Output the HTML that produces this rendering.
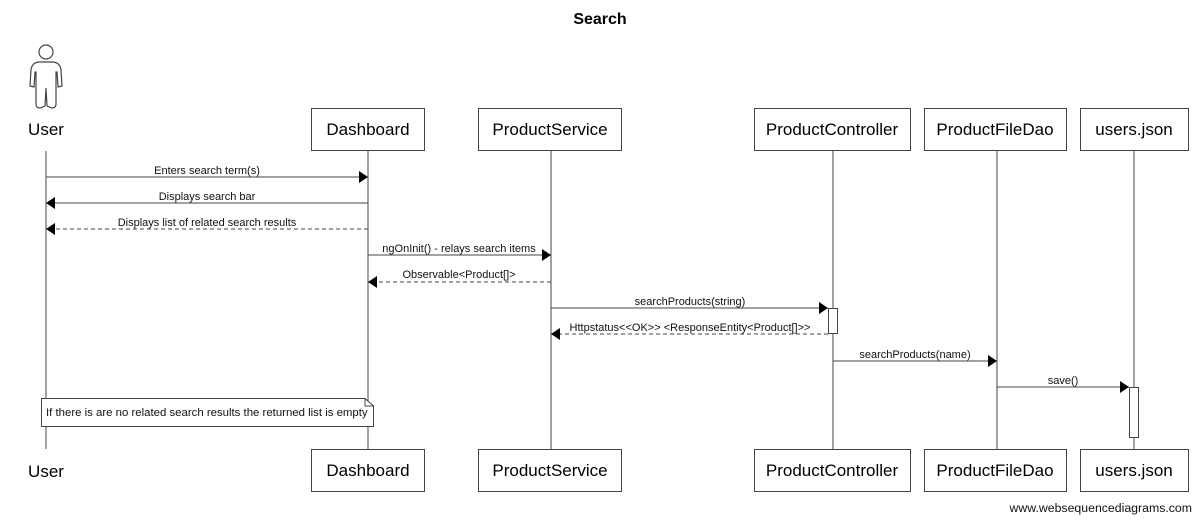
<!DOCTYPE html>
<html><head><meta charset="utf-8"><style>
html,body{margin:0;padding:0;background:#fff;}
svg{display:block;font-family:"Liberation Sans",Arial,sans-serif;}
</style></head><body>
<svg width="1200" height="522" viewBox="0 0 1200 522" xmlns="http://www.w3.org/2000/svg">
<defs>
<marker id="a" markerWidth="10" markerHeight="12" refX="9" refY="6" orient="auto" markerUnits="userSpaceOnUse"><path d="M0,0 L9,6 L0,12 Z" fill="#000"/></marker>
</defs>
<text x="600" y="24" text-anchor="middle" font-size="16" font-weight="bold">Search</text>
<!-- actor -->
<g fill="none" stroke="#444" stroke-width="1.2">
<circle cx="46" cy="52" r="7"/>
<path d="M40,62 L52,62 Q60,62 61,70 L62,86 L58,87 L57,72 L56,72 L56,104 Q56,108 52,108 L47,106 L46,88 L45,106 L40,108 Q36,108 36,104 L36,72 L35,72 L34,87 L30,86 L31,70 Q32,62 40,62 Z"/>
</g>
<text x="46" y="135" text-anchor="middle" font-size="17">User</text>
<text x="46" y="477" text-anchor="middle" font-size="17">User</text>
<!-- lifelines -->
<g stroke="#444" stroke-width="1">
<line x1="46" y1="151" x2="46" y2="449"/>
<line x1="368" y1="151" x2="368" y2="449"/>
<line x1="551" y1="151" x2="551" y2="449"/>
<line x1="833" y1="151" x2="833" y2="449"/>
<line x1="997" y1="151" x2="997" y2="449"/>
<line x1="1134" y1="151" x2="1134" y2="449"/>
</g>
<!-- boxes -->
<g fill="#fff" stroke="#444" stroke-width="1">
<rect x="311.5" y="108.5" width="113" height="42"/>
<rect x="478.5" y="108.5" width="143" height="42"/>
<rect x="754.5" y="108.5" width="156" height="42"/>
<rect x="924.5" y="108.5" width="142" height="42"/>
<rect x="1080.5" y="108.5" width="108" height="42"/>
<rect x="311.5" y="449.5" width="113" height="42"/>
<rect x="478.5" y="449.5" width="143" height="42"/>
<rect x="754.5" y="449.5" width="156" height="42"/>
<rect x="924.5" y="449.5" width="142" height="42"/>
<rect x="1080.5" y="449.5" width="108" height="42"/>
</g>
<g font-size="17" text-anchor="middle">
<text x="368" y="135">Dashboard</text>
<text x="550" y="135">ProductService</text>
<text x="832" y="135">ProductController</text>
<text x="995" y="135">ProductFileDao</text>
<text x="1134" y="135">users.json</text>
<text x="368" y="476">Dashboard</text>
<text x="550" y="476">ProductService</text>
<text x="832" y="476">ProductController</text>
<text x="995" y="476">ProductFileDao</text>
<text x="1134" y="476">users.json</text>
</g>
<!-- activations -->
<rect x="828.5" y="308.5" width="9" height="25" fill="#fff" stroke="#444"/>
<rect x="1129.5" y="387.5" width="9" height="50" fill="#fff" stroke="#444"/>
<!-- messages -->
<g stroke="#444" stroke-width="1" fill="none">
<line x1="46" y1="177" x2="368" y2="177" marker-end="url(#a)"/>
<line x1="368" y1="203" x2="46" y2="203" marker-end="url(#a)"/>
<line x1="368" y1="229" x2="46" y2="229" stroke-dasharray="4,3" marker-end="url(#a)"/>
<line x1="368" y1="255" x2="551" y2="255" marker-end="url(#a)"/>
<line x1="551" y1="282" x2="368" y2="282" stroke-dasharray="4,3" marker-end="url(#a)"/>
<line x1="551" y1="308" x2="828" y2="308" marker-end="url(#a)"/>
<line x1="828" y1="334" x2="551" y2="334" stroke-dasharray="4,3" marker-end="url(#a)"/>
<line x1="833" y1="361" x2="997" y2="361" marker-end="url(#a)"/>
<line x1="997" y1="387" x2="1129" y2="387" marker-end="url(#a)"/>
</g>
<g font-size="11" text-anchor="middle" fill="#111">
<text x="207" y="174">Enters search term(s)</text>
<text x="207" y="200">Displays search bar</text>
<text x="207" y="226">Displays list of related search results</text>
<text x="459" y="252">ngOnInit() - relays search items</text>
<text x="459" y="278">Observable&lt;Product[]&gt;</text>
<text x="690" y="305">searchProducts(string)</text>
<text x="690" y="331">Httpstatus&lt;&lt;OK&gt;&gt; &lt;ResponseEntity&lt;Product[]&gt;&gt;</text>
<text x="915" y="358">searchProducts(name)</text>
<text x="1063" y="384">save()</text>
</g>
<!-- note -->
<path d="M41.5,398.5 L365,398.5 L373.5,406 L373.5,426.5 L41.5,426.5 Z" fill="#fff" stroke="#444"/>
<path d="M365,398.5 L365,406 L373.5,406" fill="none" stroke="#444"/>
<text x="46" y="416" font-size="11.4" fill="#111">If there is are no related search results the returned list is empty</text>
<text x="1192" y="512" font-size="12.3" text-anchor="end" fill="#111">www.websequencediagrams.com</text>
</svg>
</body></html>
